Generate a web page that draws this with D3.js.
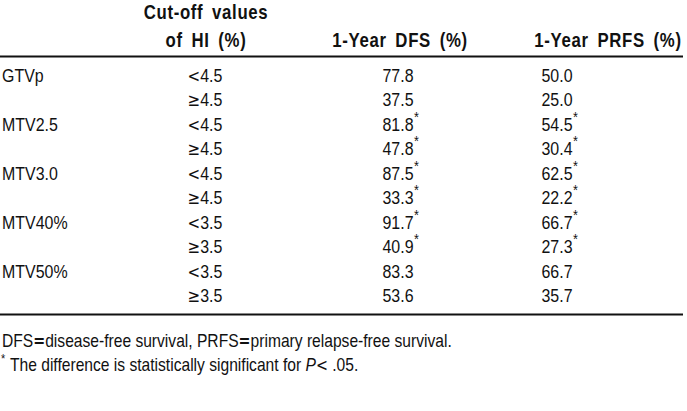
<!DOCTYPE html>
<html><head><meta charset="utf-8">
<script src="https://cdn.jsdelivr.net/npm/d3@7"></script>
<style>
html,body{margin:0;padding:0;background:#fff;}
svg{display:block;}
</style></head>
<body>
<svg id="t" width="687" height="411"></svg>
<script>
// ---- data ----
const groups = ["GTVp", "", "MTV2.5", "", "MTV3.0", "", "MTV40%", "", "MTV50%", ""];
const cutoffs = ["<4.5", "≥4.5", "<4.5", "≥4.5", "<4.5", "≥4.5", "<3.5", "≥3.5", "<3.5", "≥3.5"];
const dfs = [77.8, 37.5, 81.8, 47.8, 87.5, 33.3, 91.7, 40.9, 83.3, 53.6];
const prfs = [50.0, 25.0, 54.5, 30.4, 62.5, 22.2, 66.7, 27.3, 66.7, 35.7];
const significant = [false, false, true, true, true, true, true, true, false, false];
const headerLine1 = ["", "Cut-off values", "", ""];
const headerLine2 = ["", "of HI (%)", "1-Year DFS (%)", "1-Year PRFS (%)"];
const footnote1 = ["DFS", "=", "disease-free survival, PRFS", "=", "primary relapse-free survival."];
const footnote2 = "The difference is statistically significant for ";

const fam = "'Liberation Sans', Arial, Helvetica, sans-serif";
const symFam = "'DejaVu Sans', sans-serif";
const sx = 0.84;

const svg = d3.select("#t");
const bodySize = 19, headSize = 20, noteSize = 18.6;

const y = d3.scalePoint().domain(d3.range(groups.length)).range([75, 295]);
const colX = d3.scaleOrdinal().domain(["group","cut","dfs","prfs"]).range([2, 205, 398, 557]);
const headX = d3.scaleOrdinal().domain([0,1,2,3]).range([2, 206, 400, 608]);

function txt(g, x, yy, s, opts={}){
  const t = g.append("text")
    .attr("transform", `translate(${x},${yy}) scale(${sx},1)`)
    .attr("font-family", fam)
    .attr("font-size", opts.size || bodySize)
    .attr("font-weight", opts.weight || "normal")
    .attr("text-anchor", opts.anchor || "start")
    .attr("fill", "#111");
  if (s !== null) t.text(s);
  if (opts.ls) t.attr("letter-spacing", opts.ls);
  if (opts.ws) t.attr("word-spacing", opts.ws);
  return t;
}

// header
const gh = svg.append("g");
const hopt = {weight:"bold", anchor:"middle", size:headSize, ls:0.8, ws:4};
headerLine1.forEach((h,i)=>{ if(h) txt(gh, headX(i), 19, h, hopt); });
headerLine2.forEach((h,i)=>{ if(h) txt(gh, headX(i), 47, h, hopt); });

// rules
svg.append("line").attr("x1",0).attr("x2",683).attr("y1",56.5).attr("y2",56.5).attr("stroke","#111").attr("stroke-width",2);
svg.append("line").attr("x1",0).attr("x2",683).attr("y1",314.5).attr("y2",314.5).attr("stroke","#111").attr("stroke-width",2);

// body rows
const gb = svg.append("g");
groups.forEach((g,i)=>{
  const yy = y(i) + 7;
  if (g) txt(gb, colX("group"), yy, g);
  const c = txt(gb, colX("cut"), yy, null, {anchor:"middle"});
  c.append("tspan").attr("font-family", symFam).attr("font-size", 18).text(cutoffs[i].slice(0,1));
  c.append("tspan").text(cutoffs[i].slice(1));
  [["dfs", dfs[i]], ["prfs", prfs[i]]].forEach(([k,v])=>{
    const t = txt(gb, colX(k), yy, d3.format(".1f")(v), {anchor:"middle"});
    if (significant[i]) {
      const w = t.node().getComputedTextLength()*sx;
      txt(gb, colX(k) + w/2 + 0.5, yy - 9, "*", {size:15});
    }
  });
});

// footnotes
const gf = svg.append("g");
const f1 = txt(gf, 2, 347, null, {size:noteSize});
footnote1.forEach(p=>{
  const ts = f1.append("tspan").text(p);
  if (p === "=") ts.attr("font-family", symFam).attr("font-size", 17).attr("font-weight","bold");
});
txt(gf, 1, 363, "*", {size:13});
const f2 = txt(gf, 10, 371, footnote2, {size:noteSize});
f2.append("tspan").attr("font-style","italic").text("P");
f2.append("tspan").attr("font-family", symFam).attr("font-size", 17).text("<");
f2.append("tspan").text(" .05.");
</script>
</body></html>
